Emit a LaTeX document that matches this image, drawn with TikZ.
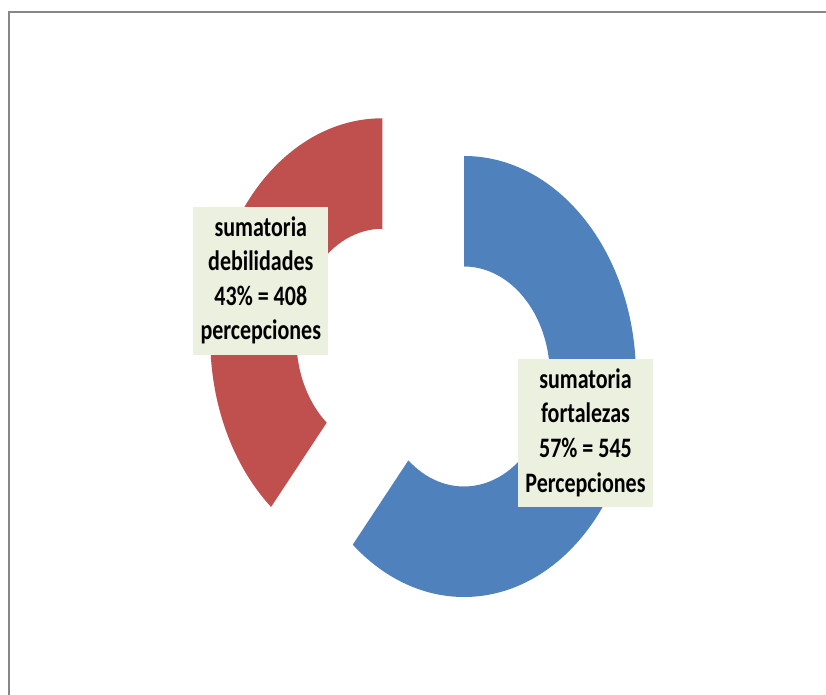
\documentclass[tikz,border=0pt]{standalone}
\usepackage{fontspec}
\setmainfont{Carlito}
\usepackage{graphicx}

\definecolor{fortblue}{HTML}{4F81BD}
\definecolor{debred}{HTML}{C0504D}
\definecolor{lblgreen}{HTML}{EBF1DE}
\definecolor{framegray}{HTML}{878787}
\newcommand{\tallrows}[1]{\scalebox{1}[1.28]{\begin{tabular}{@{}c@{}}#1\end{tabular}}}
\tikzset{lblbox/.style={fill=lblgreen, inner sep=0pt, minimum width=135pt, minimum height=148pt, font=\fontsize{22}{27}\selectfont\bfseries}}

\begin{document}
\begin{tikzpicture}[x=1pt,y=1pt]
\useasboundingbox (0,0) rectangle (826,695);
\draw[framegray, line width=2pt] (8.5,0) |- (826,683);
\coordinate (fc) at (464,318.5);
\coordinate (dc) at (382.3,356.2);
\fill[fortblue, shift={(fc)}] (90:172pt and 220.5pt) arc[start angle=90, end angle=-130.3, x radius=172pt, y radius=220.5pt] -- (-130.3:86pt and 110pt) arc[start angle=-130.3, end angle=90, x radius=86pt, y radius=110pt] -- cycle;
\fill[debred, shift={(dc)}] (90:172pt and 220.5pt) arc[start angle=90, end angle=229.7, x radius=172pt, y radius=220.5pt] -- (229.7:86pt and 110pt) arc[start angle=229.7, end angle=90, x radius=86pt, y radius=110pt] -- cycle;
\node[lblbox] (deb) at (260.8,413.8) {\tallrows{sumatoria\\debilidades\\43\% = 408\\percepciones}};
\node[lblbox] (fort) at (585.5,261.7) {\tallrows{sumatoria\\fortalezas\\57\% = 545\\Percepciones}};
\end{tikzpicture}
\end{document}
